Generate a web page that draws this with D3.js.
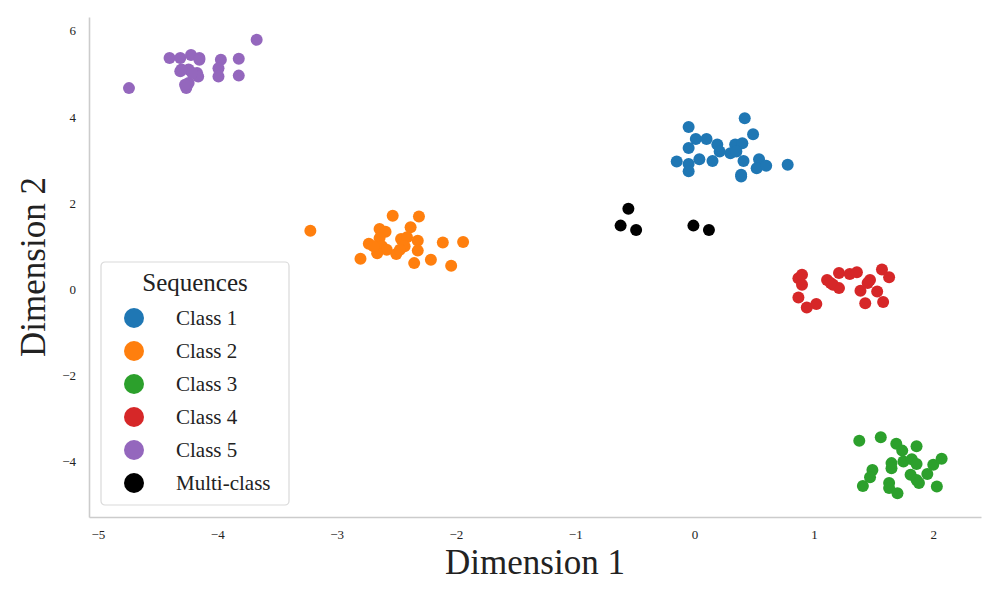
<!DOCTYPE html>
<html>
<head>
<meta charset="utf-8">
<script src="https://d3js.org/d3.v7.min.js"></script>
<style>
  body { margin: 0; background: #fff; }
  text { font-family: "Liberation Serif", "DejaVu Serif", serif; }
</style>
</head>
<body>
<script>
// cluster coordinates
var class1 = [[0.42,3.97],[-0.05,3.77],[0.49,3.60],[0.01,3.49],[0.10,3.49],[-0.05,3.28],[0.19,3.36],[0.21,3.20],
  [0.34,3.36],[0.40,3.39],[0.30,3.16],[0.35,3.20],[-0.15,2.97],[-0.05,2.91],[-0.05,2.74],[0.04,3.02],[0.15,2.98],
  [0.41,2.98],[0.54,3.02],[0.52,2.81],[0.60,2.87],[0.78,2.89],[0.39,2.66],[0.39,2.62]];
var class2 = [[-3.22,1.36],[-2.53,1.71],[-2.31,1.69],[-2.64,1.40],[-2.59,1.34],[-2.38,1.44],[-2.73,1.06],[-2.64,1.19],
  [-2.62,1.00],[-2.58,0.92],[-2.46,1.17],[-2.41,1.21],[-2.43,1.00],[-2.32,1.13],[-2.32,0.90],[-2.50,0.82],[-2.66,0.84],
  [-2.80,0.71],[-2.11,1.09],[-1.94,1.10],[-2.35,0.61],[-2.21,0.69],[-2.04,0.55],[-2.47,0.92],[-2.69,1.00]];
var class3 = [[1.38,-3.51],[1.56,-3.43],[1.69,-3.58],[1.74,-3.74],[1.86,-3.64],[1.65,-4.03],[1.65,-4.15],[1.75,-3.99],
  [1.82,-3.94],[1.86,-4.05],[1.49,-4.19],[1.47,-4.36],[1.41,-4.56],[1.63,-4.49],[1.63,-4.61],[1.70,-4.73],[1.81,-4.30],
  [1.86,-4.42],[1.88,-4.49],[1.95,-4.28],[2.00,-4.07],[2.07,-3.93],[2.03,-4.57]];
var class4 = [[0.87,0.26],[0.90,0.34],[0.90,0.11],[0.87,-0.19],[0.94,-0.42],[1.02,-0.34],[1.11,0.22],[1.16,0.11],
  [1.21,0.38],[1.21,0.03],[1.30,0.36],[1.36,0.40],[1.39,-0.03],[1.47,0.22],[1.45,0.15],[1.53,-0.05],[1.57,0.46],
  [1.63,0.28],[1.43,-0.32],[1.58,-0.29],[1.14,0.15]];
var class5 = [[-4.74,4.67],[-3.67,5.79],[-4.40,5.37],[-4.31,5.37],[-4.22,5.44],[-4.15,5.37],[-4.15,5.33],[-3.97,5.33],
  [-3.82,5.35],[-3.99,5.13],[-4.31,5.06],[-4.24,5.10],[-4.17,5.02],[-4.16,4.94],[-3.99,4.94],[-3.82,4.96],[-4.24,4.79],
  [-4.26,4.67],[-4.30,5.10],[-4.21,5.02],[-4.27,4.75]];
var multi = [[-0.555,1.87],[-0.62,1.48],[-0.49,1.38],[-0.01,1.48],[0.12,1.38]];

var labels = ["Class 1", "Class 2", "Class 3", "Class 4", "Class 5", "Multi-class"];
var colors = ["#1f77b4", "#ff7f0e", "#2ca02c", "#d62728", "#9467bd", "#000000"];
var groups = [class1, class2, class3, class4, class5, multi];
var xTicks = [-5, -4, -3, -2, -1, 0, 1, 2];
var yTicks = [-4, -2, 0, 2, 4, 6];

var width = 1000, height = 600;
var padL = 89, padR = 981, padT = 17, padB = 517;

var x = d3.scaleLinear().domain([-5.075, 2.40]).range([padL, padR]);
var y = d3.scaleLinear().domain([-5.28, 6.32]).range([padB, padT]);

var svg = d3.select("body").append("svg")
    .attr("width", width)
    .attr("height", height);

// axes, no tick marks
var xAxis = svg.append("g")
    .attr("transform", "translate(0," + padB + ")")
    .call(d3.axisBottom(x).tickValues(xTicks).tickSize(0).tickPadding(13));
var yAxis = svg.append("g")
    .attr("transform", "translate(" + padL + ",0)")
    .call(d3.axisLeft(y).tickValues(yTicks).tickSize(0).tickPadding(13));

[xAxis, yAxis].forEach(function(a) {
    a.select(".domain").attr("stroke", "#cccccc").attr("stroke-width", 1.6);
    a.selectAll("text").style("font-family", "Liberation Serif").style("font-size", "13px").attr("fill", "#222");
});

svg.append("text")
    .attr("x", (padL + padR) / 2)
    .attr("y", 574)
    .attr("text-anchor", "middle")
    .style("font-size", "35px")
    .attr("fill", "#222")
    .text("Dimension 1");

svg.append("text")
    .attr("transform", "translate(45," + ((padT + padB) / 2) + ") rotate(-90)")
    .attr("text-anchor", "middle")
    .style("font-size", "35px")
    .attr("fill", "#222")
    .text("Dimension 2");

groups.forEach(function(pts, i) {
    svg.append("g").selectAll("circle")
        .data(pts)
        .enter().append("circle")
        .attr("cx", function(d) { return x(d[0]); })
        .attr("cy", function(d) { return y(d[1]); })
        .attr("r", 6)
        .attr("fill", colors[i]);
});

// legend
var lg = svg.append("g").attr("transform", "translate(101,262)");
lg.append("rect")
    .attr("width", 188).attr("height", 243)
    .attr("rx", 4)
    .attr("fill", "white").attr("fill-opacity", 0.85)
    .attr("stroke", "#d9d9d9").attr("stroke-width", 1.2);
lg.append("text")
    .attr("x", 94).attr("y", 29)
    .attr("text-anchor", "middle")
    .style("font-size", "25px")
    .attr("fill", "#222")
    .text("Sequences");
var item = lg.selectAll("g.item")
    .data(labels)
    .enter().append("g")
    .attr("class", "item")
    .attr("transform", function(d, i) { return "translate(0," + (56 + i * 33) + ")"; });
item.append("circle")
    .attr("cx", 33).attr("r", 10)
    .attr("fill", function(d, i) { return colors[i]; });
item.append("text")
    .attr("x", 75).attr("dy", "0.35em")
    .style("font-size", "21px")
    .attr("fill", "#222")
    .text(function(d) { return d; });
</script>
</body>
</html>
